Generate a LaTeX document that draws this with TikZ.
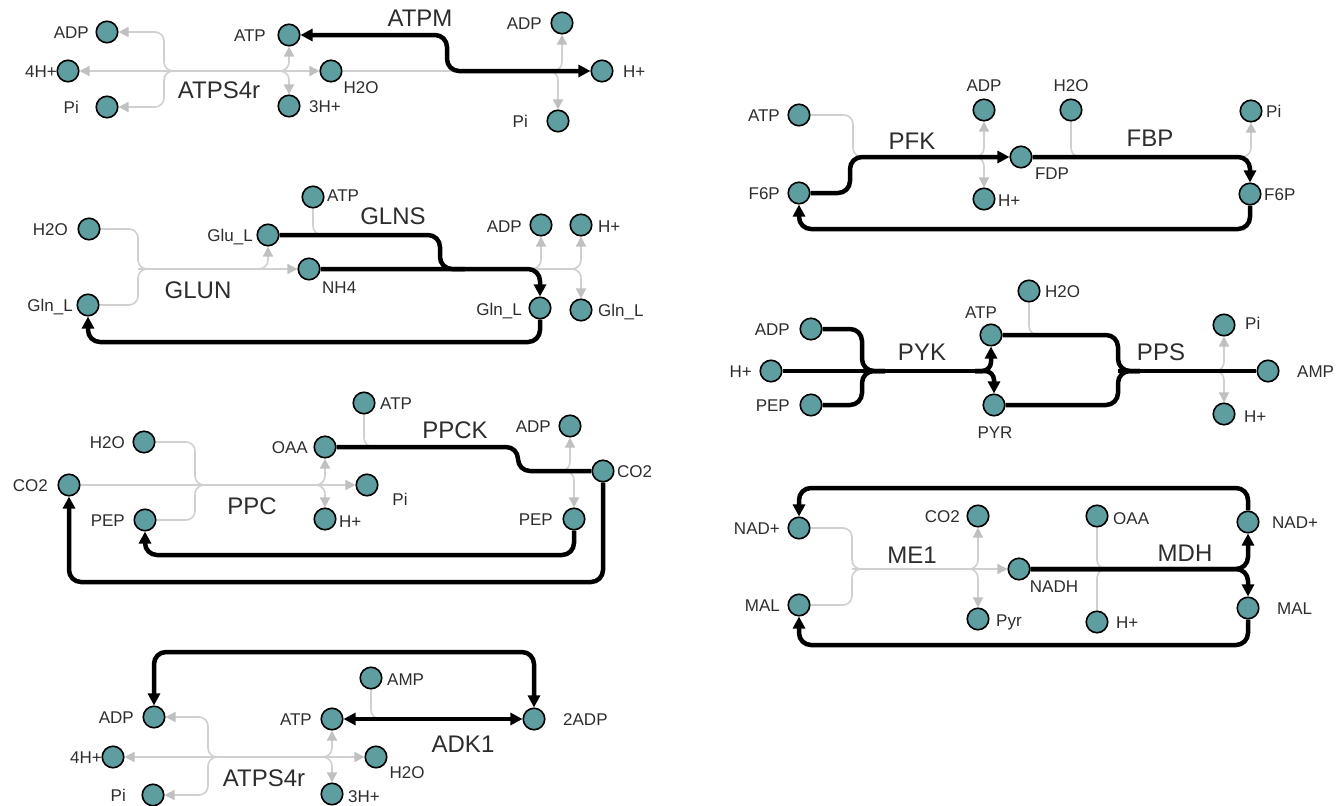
\documentclass[tikz,border=0pt]{standalone}
\usepackage{fontspec}
\setmainfont{Liberation Sans}
\usetikzlibrary{arrows.meta,backgrounds}
\definecolor{metc}{RGB}{95,158,160}
\definecolor{lgc}{RGB}{208,208,208}
\definecolor{lgac}{RGB}{192,192,192}
\definecolor{txc}{RGB}{45,45,45}
\tikzset{
  met/.style={circle,draw=black,line width=1.6pt,fill=metc,minimum size=21.5pt,inner sep=0pt},
  lb/.style={font=\fontsize{17}{17}\selectfont,text=txc,inner sep=0pt,text height=12.2pt,text depth=0pt},
  rx/.style={font=\fontsize{24}{24}\selectfont,text=txc,inner sep=0pt,text height=17.2pt,text depth=0pt},
  gl/.style={draw=lgc,line width=1.6pt,rounded corners=9pt},
  bl/.style={draw=black,line width=4.5pt,rounded corners=12pt},
  ga/.style={-{Triangle[length=10pt,width=10pt,color=lgac]}},
  gaa/.style={{Triangle[length=10pt,width=10pt,color=lgac]}-{Triangle[length=10pt,width=10pt,color=lgac]}},
  ba/.style={-{Triangle[length=12pt,width=12pt]}},
  baa/.style={{Triangle[length=12pt,width=12pt]}-{Triangle[length=12pt,width=12pt]}},
}
\begin{document}
\begin{tikzpicture}[x=1pt,y=-1pt]
\useasboundingbox (0,0) rectangle (1342,806);

% ================= Section 1: ATPS4r / ATPM =================
\node[met] (a_adp) at (107,32) {};
\node[met] (a_4h) at (68,71) {};
\node[met] (a_pi) at (107,107) {};
\node[met] (a_atp) at (289,35) {};
\node[met] (a_h2o) at (331,71) {};
\node[met] (a_3h) at (289,106) {};
\node[met] (a_adp2) at (562,23) {};
\node[met] (a_hp) at (602,71) {};
\node[met] (a_pi2) at (558,121) {};
\coordinate (a_j1) at (178,71);
\coordinate (a_j2) at (275,71);
\coordinate (a_j3) at (540,71);
\coordinate (a_k) at (447,71);
\node[lb,anchor=east] (ta1) at (89,32) {ADP};
\node[lb,anchor=east] (ta2) at (57,71) {4H+};
\node[lb,anchor=east] (ta3) at (79,107) {Pi};
\node[lb,anchor=east] (ta4) at (266,35) {ATP};
\node[lb] (ta5) at (361,87) {H2O};
\node[lb,anchor=west] (ta6) at (309,106) {3H+};
\node[rx] (ta7) at (219,90) {ATPS4r};
\node[rx] (ta8) at (420,18) {ATPM};
\node[lb,anchor=east] (ta9) at (542,23) {ADP};
\node[lb,anchor=west] (ta10) at (623,71) {H+};
\node[lb,anchor=east] (ta11) at (528,121) {Pi};

% ================= Section 2: GLUN / GLNS =================
\node[met] (b_h2o) at (89,229) {};
\node[met] (b_glnl) at (88,305) {};
\node[met] (b_glu) at (268,235) {};
\node[met] (b_nh4) at (309,269) {};
\node[met] (b_atp) at (313,197) {};
\node[met] (b_adp) at (541,225) {};
\node[met] (b_hp) at (581,225) {};
\node[met] (b_gln2) at (540,308) {};
\node[met] (b_gln3) at (581,310) {};
\coordinate (b_k1) at (138,269);
\coordinate (b_j1) at (252,269);
\coordinate (b_k2) at (330,235);
\coordinate (b_k3) at (440,269);
\coordinate (b_m3) at (465,269);
\coordinate (b_j3) at (524,269);
\coordinate (b_j4) at (564,269);
\coordinate (b_l) at (88,342);
\node[lb,anchor=east] (tb1) at (68,229) {H2O};
\node[lb,anchor=east] (tb2) at (73,305) {Gln\_L};
\node[lb,anchor=east] (tb3) at (253,235) {Glu\_L};
\node[lb,anchor=west] (tb4) at (322,287) {NH4};
\node[lb,anchor=west] (tb5) at (327,195) {ATP};
\node[rx] (tb6) at (393,216) {GLNS};
\node[rx] (tb7) at (198,290) {GLUN};
\node[lb,anchor=east] (tb8) at (522,226) {ADP};
\node[lb,anchor=west] (tb9) at (598,226) {H+};
\node[lb,anchor=east] (tb10) at (522,309) {Gln\_L};
\node[lb,anchor=west] (tb11) at (598,310) {Gln\_L};

% ================= Section 3: PPC / PPCK =================
\node[met] (c_h2o) at (144,442) {};
\node[met] (c_co2) at (69,485) {};
\node[met] (c_pep) at (145,520) {};
\node[met] (c_oaa) at (325,447) {};
\node[met] (c_atp) at (364,403) {};
\node[met] (c_adp) at (570,426) {};
\node[met] (c_co2b) at (603,471) {};
\node[met] (c_pi) at (367,485) {};
\node[met] (c_hp) at (325,519) {};
\node[met] (c_pep2) at (574,519) {};
\coordinate (c_k1) at (195,485);
\coordinate (c_j1) at (308,485);
\coordinate (c_k2) at (375,447);
\coordinate (c_k3) at (518,471);
\coordinate (c_j3) at (556,471);
\coordinate (c_l1) at (145,555);
\coordinate (c_l2) at (69,582);
\node[lb,anchor=east] (tc1) at (125,442) {H2O};
\node[lb,anchor=east] (tc2) at (48,485) {CO2};
\node[lb,anchor=east] (tc3) at (125,520) {PEP};
\node[lb,anchor=east] (tc4) at (308,447) {OAA};
\node[lb,anchor=west] (tc5) at (380,403) {ATP};
\node[rx] (tc6) at (455,430) {PPCK};
\node[lb,anchor=east] (tc7) at (551,426) {ADP};
\node[lb,anchor=west] (tc8) at (617,471) {CO2};
\node[lb] (tc9) at (400,499) {Pi};
\node[lb,anchor=west] (tc10) at (339,521) {H+};
\node[rx] (tc11) at (252,506) {PPC};
\node[lb,anchor=east] (tc12) at (553,519) {PEP};

% ================= Section 4: ADK1 / ATPS4r =================
\node[met] (d_adp) at (154,717) {};
\node[met] (d_4h) at (113,757) {};
\node[met] (d_pi) at (153,795) {};
\node[met] (d_amp) at (371,678) {};
\node[met] (d_atp) at (332,719) {};
\node[met] (d_2adp) at (534,719) {};
\node[met] (d_h2o) at (376,757) {};
\node[met] (d_3h) at (332,794) {};
\coordinate (d_j1) at (222,757);
\coordinate (d_j2) at (318,757);
\coordinate (d_k) at (384,719);
\coordinate (d_l) at (154,652);
\node[lb,anchor=east] (td1) at (134,717) {ADP};
\node[lb,anchor=east] (td2) at (102,757) {4H+};
\node[lb,anchor=east] (td3) at (126,795) {Pi};
\node[lb,anchor=west] (td4) at (387,679) {AMP};
\node[lb,anchor=east] (td5) at (312,719) {ATP};
\node[lb,anchor=west] (td6) at (563,719) {2ADP};
\node[lb] (td7) at (407,772) {H2O};
\node[lb,anchor=west] (td8) at (348,796) {3H+};
\node[rx] (td9) at (463,744) {ADK1};
\node[rx] (td10) at (264,778) {ATPS4r};

% ================= Section 5: PFK / FBP =================
\node[met] (e_atp) at (799,115) {};
\node[met] (e_adp) at (984,110) {};
\node[met] (e_h2o) at (1071,110) {};
\node[met] (e_pi) at (1251,111) {};
\node[met] (e_fdp) at (1021,157) {};
\node[met] (e_f6p) at (799,193) {};
\node[met] (e_hp) at (984,199) {};
\node[met] (e_f6p2) at (1250,194) {};
\coordinate (e_k1) at (850,157);
\coordinate (e_k2) at (853,157);
\coordinate (e_j1) at (968,157);
\coordinate (e_k3) at (1085,157);
\coordinate (e_j3) at (1236,157);
\coordinate (e_l) at (799,229);
\node[lb,anchor=east] (te1) at (780,115) {ATP};
\node[lb] (te2) at (984,85) {ADP};
\node[lb] (te3) at (1071,85) {H2O};
\node[lb,anchor=west] (te4) at (1266,111) {Pi};
\node[rx] (te5) at (912,141) {PFK};
\node[rx] (te6) at (1150,138) {FBP};
\node[lb] (te7) at (1052,173) {FDP};
\node[lb,anchor=east] (te8) at (780,193) {F6P};
\node[lb,anchor=west] (te9) at (998,200) {H+};
\node[lb,anchor=west] (te10) at (1264,194) {F6P};

% ================= Section 6: PYK / PPS =================
\node[met] (f_h2o) at (1029,291) {};
\node[met] (f_adp) at (811,329) {};
\node[met] (f_atp) at (991,335) {};
\node[met] (f_pi) at (1224,325) {};
\node[met] (f_hp) at (771,371) {};
\node[met] (f_amp) at (1268,371) {};
\node[met] (f_pep) at (811,405) {};
\node[met] (f_pyr) at (994,405) {};
\node[met] (f_hp2) at (1224,414) {};
\coordinate (f_k1) at (862,371);
\coordinate (f_m) at (885,371);
\coordinate (f_j1) at (975,371);
\coordinate (f_k2) at (1118,371);
\coordinate (f_m2) at (1140,371);
\coordinate (f_k3) at (1044,335);
\coordinate (f_j2) at (1207,371);
\node[lb,anchor=west] (tf1) at (1045,291) {H2O};
\node[lb,anchor=east] (tf2) at (790,329) {ADP};
\node[lb] (tf3) at (981,312) {ATP};
\node[lb,anchor=west] (tf4) at (1245,323) {Pi};
\node[lb,anchor=east] (tf5) at (752,371) {H+};
\node[rx] (tf6) at (922,352) {PYK};
\node[rx] (tf7) at (1161,352) {PPS};
\node[lb,anchor=west] (tf8) at (1297,371) {AMP};
\node[lb,anchor=east] (tf9) at (790,405) {PEP};
\node[lb] (tf10) at (995,432) {PYR};
\node[lb,anchor=west] (tf11) at (1244,416) {H+};

% ================= Section 7: ME1 / MDH =================
\node[met] (g_nad) at (799,528) {};
\node[met] (g_co2) at (978,516) {};
\node[met] (g_oaa) at (1097,516) {};
\node[met] (g_nad2) at (1248,522) {};
\node[met] (g_nadh) at (1019,569) {};
\node[met] (g_mal) at (799,605) {};
\node[met] (g_pyr) at (978,619) {};
\node[met] (g_hp) at (1097,622) {};
\node[met] (g_mal2) at (1248,608) {};
\coordinate (g_k1) at (852,569);
\coordinate (g_j1) at (962,569);
\coordinate (g_k2) at (1110,569);
\coordinate (g_l1) at (799,488);
\coordinate (g_l2) at (799,645);
\node[lb,anchor=east] (tg1) at (780,528) {NAD+};
\node[lb,anchor=east] (tg2) at (960,516) {CO2};
\node[lb,anchor=west] (tg3) at (1113,518) {OAA};
\node[lb,anchor=west] (tg4) at (1272,522) {NAD+};
\node[rx] (tg5) at (912,555) {ME1};
\node[rx] (tg6) at (1185,553) {MDH};
\node[lb] (tg7) at (1054,586) {NADH};
\node[lb,anchor=east] (tg8) at (780,605) {MAL};
\node[lb,anchor=west] (tg9) at (996,620) {Pyr};
\node[lb,anchor=west] (tg10) at (1116,622) {H+};
\node[lb,anchor=west] (tg11) at (1277,608) {MAL};

\begin{scope}[on background layer]
% ---- section 1
\draw[gl,gaa] (a_4h) -- (a_h2o);
\draw[gl,ga] (a_j1) -- ++(-14,0) |- (a_adp);
\draw[gl,ga] (a_j1) -- ++(-14,0) |- (a_pi);
\draw[gl,ga] (a_j2) -| (a_atp);
\draw[gl,ga] (a_j2) -| (a_3h);
\draw[gl] (a_h2o) -- (a_j3);
\draw[gl,ga] (a_j3) -| (a_adp2);
\draw[gl,ga] (a_j3) -| (a_pi2);
\draw[bl,baa] (a_atp) -| (a_k) -- (a_hp);
% ---- section 2
\draw[gl] (b_h2o) -| (b_k1) -- ++(15,0);
\draw[gl] (b_glnl) -| (b_k1) -- ++(15,0);
\draw[gl,ga] (b_k1) -- (b_nh4);
\draw[gl,ga] (b_j1) -| (b_glu);
\draw[gl] (b_atp) |- (b_k2);
\draw[gl] (b_j3) -- (b_j4);
\draw[gl,ga] (b_j3) -| (b_adp);
\draw[gl,ga] (b_j4) -| (b_hp);
\draw[gl,ga] (b_j4) -| (b_gln3);
\draw[bl] (b_glu) -| (b_k3) -- (b_m3);
\draw[bl,ba] (b_nh4) -| (b_gln2);
\draw[bl,ba] (b_gln2) |- (b_l) -- (b_glnl);
% ---- section 3
\draw[gl,ga] (c_co2) -- (c_pi);
\draw[gl] (c_h2o) -| (c_k1) -- ++(15,0);
\draw[gl] (c_pep) -| (c_k1) -- ++(15,0);
\draw[gl,ga] (c_j1) -| (c_oaa);
\draw[gl,ga] (c_j1) -| (c_hp);
\draw[gl] (c_atp) |- (c_k2);
\draw[gl,ga] (c_j3) -| (c_adp);
\draw[gl,ga] (c_j3) -| (c_pep2);
\draw[bl] (c_oaa) -| (c_k3) -- (c_co2b);
\draw[bl,ba] (c_pep2) |- (c_l1) -- (c_pep);
\draw[bl,ba] (c_co2b) |- (c_l2) -- (c_co2);
% ---- section 4
\draw[gl,gaa] (d_4h) -- (d_h2o);
\draw[gl,ga] (d_j1) -- ++(-14,0) |- (d_adp);
\draw[gl,ga] (d_j1) -- ++(-14,0) |- (d_pi);
\draw[gl,ga] (d_j2) -| (d_atp);
\draw[gl,ga] (d_j2) -| (d_3h);
\draw[gl] (d_amp) |- (d_k);
\draw[bl,baa] (d_atp) -- (d_2adp);
\draw[bl,baa] (d_2adp) |- (d_l) -- (d_adp);
% ---- section 5
\draw[gl] (e_atp) -| (e_k2) -- ++(15,0);
\draw[gl,ga] (e_j1) -| (e_adp);
\draw[gl,ga] (e_j1) -| (e_hp);
\draw[gl] (e_h2o) |- (e_k3);
\draw[gl,ga] (e_j3) -| (e_pi);
\draw[bl,ba] (e_f6p) -| (e_k1) -- (e_fdp);
\draw[bl,ba] (e_fdp) -| (e_f6p2);
\draw[bl,ba] (e_f6p2) |- (e_l) -- (e_f6p);
% ---- section 6
\draw[gl] (f_h2o) |- (f_k3);
\draw[gl,ga] (f_j2) -| (f_pi);
\draw[gl,ga] (f_j2) -| (f_hp2);
\draw[bl] (f_adp) -| (f_k1) -- (f_m);
\draw[bl] (f_pep) -| (f_k1) -- (f_m);
\draw[bl] (f_hp) -- (f_j1);
\draw[bl,ba,rounded corners=9pt] (f_j1) -| (f_atp);
\draw[bl,ba,rounded corners=9pt] (f_j1) -| (f_pyr);
\draw[bl] (f_atp) -| (f_k2) -- (f_m2);
\draw[bl] (f_pyr) -| (f_k2) -- (f_m2);
\draw[bl] (f_k2) -- (f_amp);
% ---- section 7
\draw[gl] (g_nad) -| (g_k1) -- ++(15,0);
\draw[gl] (g_mal) -| (g_k1) -- ++(15,0);
\draw[gl,ga] (g_k1) -- (g_nadh);
\draw[gl,ga] (g_j1) -| (g_co2);
\draw[gl,ga] (g_j1) -| (g_pyr);
\draw[gl] (g_oaa) |- (g_k2);
\draw[gl] (g_hp) |- (g_k2);
\draw[bl,ba] (g_nadh) -| (g_nad2);
\draw[bl,ba] (g_nadh) -| (g_mal2);
\draw[bl,ba] (g_nad2) |- (g_l1) -- (g_nad);
\draw[bl,ba] (g_mal2) |- (g_l2) -- (g_mal);
\end{scope}
\end{tikzpicture}
\end{document}
